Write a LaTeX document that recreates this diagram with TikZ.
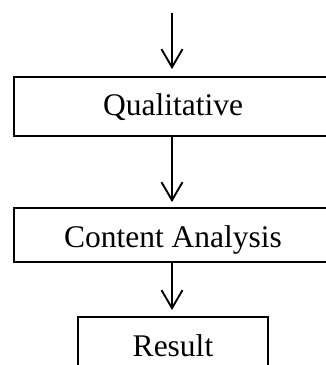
\documentclass[tikz,border=0pt]{standalone}
\usepackage{fontspec}
\setmainfont{Liberation Serif}
\usetikzlibrary{arrows.meta}
\begin{document}
\begin{tikzpicture}[x=1pt,y=-1pt,
  box/.style={draw=black, line width=1.9pt, inner sep=0pt, align=center,
    font=\fontsize{31.5}{36}\selectfont, text height=20.5pt},
  flow/.style={line width=1.9pt, -{Straight Barb[length=18pt,width=21pt,line width=1.9pt]}}]
\useasboundingbox (0,0) rectangle (326,365);
\clip (0,0) rectangle (326,365);
\fill[white] (0,0) rectangle (326,365);
\node[box, minimum width=318pt, minimum height=59pt, text depth=3.5pt] (q) at (173,106.5) {Qualitative};
\node[box, minimum width=318pt, minimum height=54pt, text height=24pt, text depth=0pt] (c) at (173,235) {Content Analysis};
\node[box, minimum width=190pt, minimum height=80pt, text depth=20.5pt, anchor=north] (r) at (173,316) {Result};
\coordinate (s) at (172,13);
\draw[flow, shorten >=7pt] (s) -- (s |- q.north);
\draw[flow, shorten >=5pt] (s |- q.south) -- (s |- c.north);
\draw[flow, shorten >=6pt] (s |- c.south) -- (s |- r.north);
\end{tikzpicture}
\end{document}
